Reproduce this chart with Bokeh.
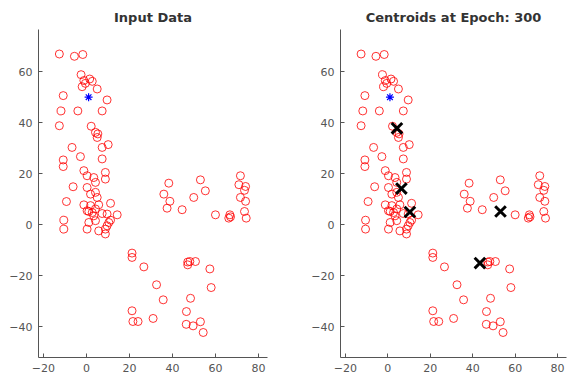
from bokeh.plotting import figure
from bokeh.layouts import row
from bokeh.models import FixedTicker, Range1d
from bokeh.embed import file_html
from bokeh.resources import INLINE

# data points
x_data = [-12.6, -5.6, -1.7,
          -2.5, -1.2, 1.5, 2.7, -0.5, -2.0, 5.0,
          -10.8, 9.6,
          -11.8, -4.0, 7.3,
          -12.6, 2.2,
          4.2, 5.3, 5.0,
          -6.7, 7.3, 10.1,
          -2.8, 7.3, -10.8, -10.8,
          -1.2, 0.3, 3.4, 8.8, 8.8, 4.2,
          -6.2, 0.3,
          4.2, 1.9, 5.0,
          -9.3,
          -1.2, 1.9, 5.7, 11.2,
          0.3, 2.7, 4.2, 7.3, 9.6, 14.3, 3.4, 1.1,
          -10.5, -10.5,
          1.1, 4.2, 10.4, 11.2,
          0.3, 5.7, 8.8, 9.6, 8.8,
          38.3, 53.0, 71.6, 70.9, 74.0, 55.3,
          36.0, 38.8, 37.5, 44.5, 49.9, 60.0,
          71.6, 74.0, 73.5, 74.3, 66.7, 67.0, 66.2, 73.5,
          21.2, 21.2, 26.7, 32.6, 35.7, 21.2, 21.6, 24.0, 31.0,
          47.1, 48.1, 50.7, 47.1, 57.4, 58.0, 48.4, 46.5, 46.4, 49.6, 53.0, 54.3]
y_data = [66.9, 66.0, 66.7,
          58.8, 56.5, 57.1, 56.2, 55.4, 54.1, 53.2,
          50.6, 48.9,
          44.6, 44.6, 44.6,
          38.8, 38.6,
          36.2, 35.6, 34.2,
          30.3, 30.3, 31.4,
          26.7, 25.8, 25.4, 22.8,
          21.2, 19.2, 18.5, 20.5, 17.9, 16.6,
          14.9, 14.6,
          12.7, 12.0, 10.7,
          9.1,
          7.8, 7.5, 7.8, 8.4,
          5.5, 4.8, 6.2, 4.4, 4.2, 3.9, 3.5, 5.2,
          1.8, -1.7,
          0.9, 1.6, 0.9, 1.8,
          -1.7, -2.4, -1.7, -0.4, -3.6,
          16.3, 17.6, 19.2, 15.7, 15.0, 13.3,
          12.0, 9.2, 6.5, 5.9, 10.7, 3.9,
          10.7, 9.2, 5.2, 2.6, 3.9, 3.1, 2.6, 13.5,
          -11.1, -12.8, -16.5, -23.5, -29.4, -33.7, -37.9, -37.9, -36.7,
          -14.6, -14.4, -14.4, -15.7, -17.3, -24.6, -28.8, -34.0, -39.0, -39.6, -38.0, -42.2]

star_x = [1.0]
star_y = [50.0]

cent_x = [4.3, 6.4, 10.4, 53.1, 43.4]
cent_y = [37.8, 14.2, 5.0, 5.2, -15.0]

x_ticks = [-20, 0, 20, 40, 60, 80]
y_ticks = [-40, -20, 0, 20, 40, 60]

FONT = "DejaVu Sans"


def make(title, width, bl, br):
    p = figure(width=width, height=376, output_backend="svg", toolbar_location=None,
               x_range=Range1d(-22.3, 84.2), y_range=Range1d(-52, 76.5),
               min_border_left=bl, min_border_right=br,
               min_border_top=29, min_border_bottom=19,
               title=title)
    p.title.align = "center"
    p.title.text_font = FONT
    p.title.text_font_size = "13px"
    p.title.text_font_style = "bold"
    p.title.text_color = "#333333"
    p.grid.visible = False
    p.outline_line_color = None
    p.xaxis.ticker = FixedTicker(ticks=x_ticks)
    p.yaxis.ticker = FixedTicker(ticks=y_ticks)
    for ax in (p.xaxis, p.yaxis):
        ax.major_tick_in = 4
        ax.major_tick_out = 0
        ax.minor_tick_line_color = None
        ax.axis_line_color = "#555555"
        ax.major_tick_line_color = "#555555"
        ax.major_label_text_font = FONT
        ax.major_label_text_font_size = "11px"
        ax.major_label_text_color = "#555555"
        ax.major_label_standoff = 6
    p.scatter(x_data, y_data, marker="circle", size=8, fill_color=None,
              line_color="red", line_width=1, line_alpha=0.8)
    p.scatter(star_x, star_y, marker="asterisk", size=8, line_color="blue", line_width=1.2)
    return p


p1 = make("Input Data", 290, 38, 23)
p2 = make("Centroids at Epoch: 300", 278, 50, 2)
p2.scatter(cent_x, cent_y, marker="x", size=15, line_color="black", line_width=3)

layout = row(p1, p2)
open("out.html", "w").write(file_html(layout, INLINE))
